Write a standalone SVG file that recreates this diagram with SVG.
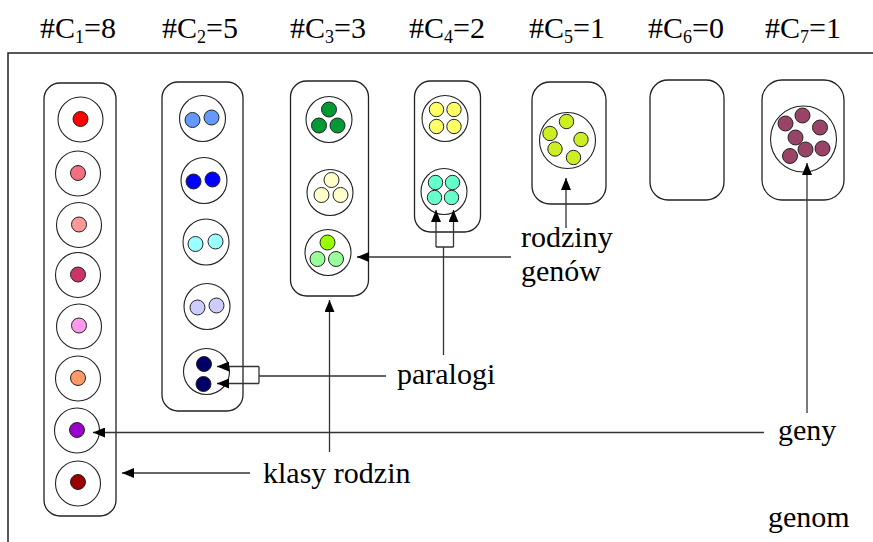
<svg xmlns="http://www.w3.org/2000/svg" width="873" height="542" viewBox="0 0 873 542">
<style>
text{font-family:'Liberation Serif','Times New Roman','DejaVu Serif',serif;font-size:30px;fill:#000}
.sub{font-size:18px}
.box{fill:#fff;stroke:#222;stroke-width:1.3}
.fam{fill:#fff;stroke:#222;stroke-width:1.1}
.g{stroke:#222;stroke-width:1}
.ln{fill:none;stroke:#333;stroke-width:1.3}
.frame{fill:none;stroke:#222;stroke-width:1.5}
</style>
<defs>
<marker id="ah" viewBox="0 0 12 10" refX="12" refY="5" markerWidth="12" markerHeight="10" orient="auto" markerUnits="userSpaceOnUse">
<path d="M0,0 L12,5 L0,10 Z" fill="#000"/>
</marker>
</defs>
<rect width="873" height="542" fill="#fff"/>
<g id="headers" font-family="Liberation Serif, Times New Roman, DejaVu Serif, serif">
<text x="40" y="38">#C<tspan class="sub" dy="5">1</tspan><tspan dy="-5">=8</tspan></text>
<text x="162" y="38">#C<tspan class="sub" dy="5">2</tspan><tspan dy="-5">=5</tspan></text>
<text x="290" y="38">#C<tspan class="sub" dy="5">3</tspan><tspan dy="-5">=3</tspan></text>
<text x="409" y="38">#C<tspan class="sub" dy="5">4</tspan><tspan dy="-5">=2</tspan></text>
<text x="529" y="38">#C<tspan class="sub" dy="5">5</tspan><tspan dy="-5">=1</tspan></text>
<text x="648" y="38">#C<tspan class="sub" dy="5">6</tspan><tspan dy="-5">=0</tspan></text>
<text x="765" y="38">#C<tspan class="sub" dy="5">7</tspan><tspan dy="-5">=1</tspan></text>
</g>
<g id="genome">
<path class="frame" d="M8,542 V53 H873"/>
<text x="768" y="527">genom</text>
</g>
<g id="class1">
<rect class="box" x="44" y="83" width="72" height="433" rx="16"/>
<circle class="fam" cx="80.5" cy="119.5" r="22.5"/><circle class="g" cx="80.5" cy="119" r="7.5" fill="#ff0000"/>
<circle class="fam" cx="78" cy="173.5" r="22.5"/><circle class="g" cx="78" cy="173" r="7.5" fill="#f07080"/>
<circle class="fam" cx="79" cy="225" r="22.5"/><circle class="g" cx="79" cy="224.5" r="7.5" fill="#ff9999"/>
<circle class="fam" cx="78" cy="275" r="22.5"/><circle class="g" cx="78" cy="274.5" r="7.5" fill="#cc3366"/>
<circle class="fam" cx="79" cy="326.5" r="22.5"/><circle class="g" cx="79" cy="325.5" r="7.5" fill="#ff99ee"/>
<circle class="fam" cx="78" cy="378.5" r="22.5"/><circle class="g" cx="78" cy="378" r="7.5" fill="#ff9966"/>
<circle class="fam" cx="77" cy="430.5" r="22.5"/><circle class="g" cx="77" cy="430" r="7.5" fill="#9900cc"/>
<circle class="fam" cx="78" cy="483.5" r="22.5"/><circle class="g" cx="78" cy="482" r="7.5" fill="#990000"/>
</g>
<g id="class2">
<rect class="box" x="162" y="82" width="81" height="329" rx="16"/>
<circle class="fam" cx="202.5" cy="118.5" r="23"/><circle class="g" cx="192.5" cy="120" r="7.5" fill="#6699ff"/><circle class="g" cx="211.5" cy="117.5" r="7.5" fill="#6699ff"/>
<circle class="fam" cx="204" cy="180.5" r="23"/><circle class="g" cx="193.5" cy="181.5" r="7.5" fill="#0000ff"/><circle class="g" cx="212.5" cy="179.5" r="7.5" fill="#0000ff"/>
<circle class="fam" cx="206" cy="242" r="23"/><circle class="g" cx="195.5" cy="244" r="7.5" fill="#99ffff"/><circle class="g" cx="215.5" cy="241.5" r="7.5" fill="#99ffff"/>
<circle class="fam" cx="207" cy="306.5" r="23"/><circle class="g" cx="197.5" cy="307.5" r="7.5" fill="#ccccff"/><circle class="g" cx="216.5" cy="305.5" r="7.5" fill="#ccccff"/>
<circle class="fam" cx="206.5" cy="371.5" r="23"/><circle class="g" cx="204" cy="364" r="7.5" fill="#000066"/><circle class="g" cx="203.5" cy="384" r="7.5" fill="#000066"/>
</g>
<g id="class3">
<rect class="box" x="290.5" y="81" width="78" height="215" rx="16"/>
<circle class="fam" cx="329" cy="119.5" r="23"/><circle class="g" cx="329" cy="109.5" r="7.5" fill="#009933"/><circle class="g" cx="319" cy="125.5" r="7.5" fill="#009933"/><circle class="g" cx="337.5" cy="125.5" r="7.5" fill="#009933"/>
<circle class="fam" cx="330" cy="192.5" r="23"/><circle class="g" cx="331.5" cy="180" r="7.5" fill="#ffffcc"/><circle class="g" cx="321.5" cy="195" r="7.5" fill="#ffffcc"/><circle class="g" cx="340.5" cy="195" r="7.5" fill="#ffffcc"/>
<circle class="fam" cx="328" cy="252.5" r="23"/><circle class="g" cx="327.5" cy="242.5" r="7.5" fill="#99ff00"/><circle class="g" cx="317.5" cy="259" r="7.5" fill="#99ff99"/><circle class="g" cx="336" cy="259" r="7.5" fill="#99ff99"/>
</g>
<g id="class4">
<rect class="box" x="414.5" y="81" width="66" height="151" rx="16"/>
<circle class="fam" cx="445" cy="118.5" r="23"/><circle class="g" cx="436.5" cy="109.5" r="7.2" fill="#ffff66"/><circle class="g" cx="454" cy="109.5" r="7.2" fill="#ffff66"/><circle class="g" cx="436.5" cy="126.5" r="7.2" fill="#ffff66"/><circle class="g" cx="454" cy="126.5" r="7.2" fill="#ffff66"/>
<circle class="fam" cx="444" cy="191.5" r="23"/><circle class="g" cx="435.5" cy="182.5" r="7.2" fill="#66ffcc"/><circle class="g" cx="452.5" cy="182.5" r="7.2" fill="#66ffcc"/><circle class="g" cx="434.5" cy="197.5" r="7.2" fill="#66ffcc"/><circle class="g" cx="451.5" cy="197.5" r="7.2" fill="#66ffcc"/>
</g>
<g id="class5">
<rect class="box" x="532" y="82" width="74" height="122" rx="18"/>
<circle class="fam" cx="567.5" cy="140.5" r="28"/>
<circle class="g" cx="566.5" cy="121.5" r="7.2" fill="#ccee22"/><circle class="g" cx="550" cy="133.5" r="7.2" fill="#ccee22"/><circle class="g" cx="581" cy="139.5" r="7.2" fill="#ccee22"/><circle class="g" cx="555" cy="149" r="7.2" fill="#ccee22"/><circle class="g" cx="573.5" cy="157.5" r="7.2" fill="#ccee22"/>
</g>
<g id="class6">
<rect class="box" x="650" y="80" width="74" height="120" rx="18"/>
</g>
<g id="class7">
<rect class="box" x="762" y="80" width="82" height="120" rx="20"/>
<circle class="fam" cx="803.5" cy="139" r="33"/>
<circle class="g" cx="785.5" cy="123.5" r="7.5" fill="#994466"/><circle class="g" cx="802.5" cy="115.5" r="7.5" fill="#994466"/><circle class="g" cx="820" cy="127.5" r="7.5" fill="#994466"/><circle class="g" cx="795.5" cy="137.5" r="7.5" fill="#994466"/><circle class="g" cx="805.5" cy="149.5" r="7.5" fill="#994466"/><circle class="g" cx="822.5" cy="148.5" r="7.5" fill="#994466"/><circle class="g" cx="790" cy="156" r="7.5" fill="#994466"/>
</g>
<g id="labels">
<text x="397" y="384">paralogi</text>
<text x="521" y="247">rodziny</text>
<text x="521" y="281">genów</text>
<text x="778" y="440">geny</text>
<text x="263" y="483">klasy rodzin</text>
</g>
<g id="connectors">
<path class="ln" d="M386,376 H259 M259,366.5 V383.5"/>
<path class="ln" d="M259,366.5 H217" marker-end="url(#ah)"/>
<path class="ln" d="M259,383.5 H217" marker-end="url(#ah)"/>
<path class="ln" d="M443.5,355 V247 M436,247 H453.5"/>
<path class="ln" d="M436,247 V210" marker-end="url(#ah)"/>
<path class="ln" d="M453.5,247 V210" marker-end="url(#ah)"/>
<path class="ln" d="M511,257 H357" marker-end="url(#ah)"/>
<path class="ln" d="M566,228 V178" marker-end="url(#ah)"/>
<path class="ln" d="M807,413 V163" marker-end="url(#ah)"/>
<path class="ln" d="M764,432.5 H93" marker-end="url(#ah)"/>
<path class="ln" d="M250,473 H122" marker-end="url(#ah)"/>
<path class="ln" d="M329.5,452 V300" marker-end="url(#ah)"/>
</g>
</svg>
